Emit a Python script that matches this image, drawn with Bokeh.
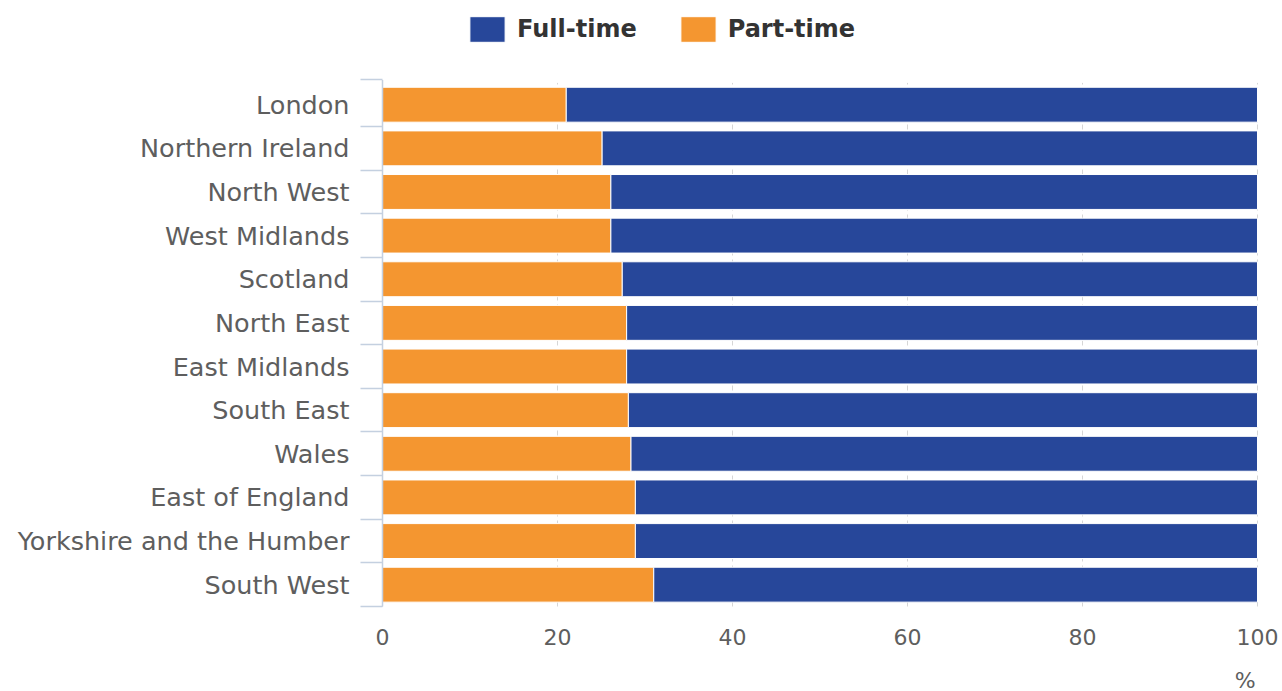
from bokeh.plotting import figure
from bokeh.models import (ColumnDataSource, Range1d, FixedTicker, Legend, LegendItem, LinearAxis)
from bokeh.embed import file_html
from bokeh.resources import INLINE

# Share of employment by region (%), ordered top to bottom
regions = ["London", "Northern Ireland", "North West", "West Midlands", "Scotland",
           "North East", "East Midlands", "South East", "Wales", "East of England",
           "Yorkshire and the Humber", "South West"]
part_time = [21.0, 25.1, 26.1, 26.1, 27.4, 27.9, 27.9, 28.1, 28.4, 28.9, 28.9, 31.0]
full_time = [79.0, 74.9, 73.9, 73.9, 72.6, 72.1, 72.1, 71.9, 71.6, 71.1, 71.1, 69.0]
x_ticks = [0, 20, 40, 60, 80, 100]

FULL_COLOR = "#27479a"
PART_COLOR = "#f49630"
AXIS_COLOR = "#c4d0e0"
GRID_COLOR = "#d6d6d6"
LABEL_COLOR = "#5e5e5e"
FONT = "DejaVu Sans"
W, H = 1282, 691

n = len(regions)
ypos = [n - i - 0.5 for i in range(n)]
src = ColumnDataSource(dict(y=ypos, region=regions, part=part_time, full=full_time))

# Layout in pixels: the plotting area spans the full canvas height and reaches the right
# edge, so the legend, tick labels and unit caption all live inside it.
frame_left, zero_px, hundred_px = 360.0, 382.0, 1257.0
x_scale = (hundred_px - zero_px) / 100
x_start = -(zero_px - frame_left) / x_scale
x_end = 100 + (W - hundred_px) / x_scale

base_px, top_px = 606.0, 82.4
band_px = (base_px - top_px) / n
y_top = base_px / band_px
y_bottom = -(H - base_px) / band_px
axis_top = n + 3.0 / band_px

p = figure(width=W, height=H, output_backend="svg", toolbar_location=None,
           x_range=Range1d(x_start, x_end), y_range=Range1d(y_bottom, y_top),
           min_border_left=int(frame_left), min_border_right=0,
           min_border_top=0, min_border_bottom=0)
p.outline_line_color = None
p.background_fill_color = "white"
p.xgrid.grid_line_color = None
p.ygrid.grid_line_color = None

# dashed vertical grid, limited to the band area
p.segment(x0=x_ticks, y0=[0] * len(x_ticks), x1=x_ticks, y1=[n] * len(x_ticks),
          line_color=GRID_COLOR, line_width=1, line_dash="5 4")

r_part, r_full = p.hbar_stack(["part", "full"], y="y", height=0.8, source=src,
                              color=[PART_COLOR, FULL_COLOR], line_color="white", line_width=1)

# category axis line at x = 0
p.segment(x0=[0], y0=[0], x1=[0], y1=[axis_top], line_color=AXIS_COLOR, line_width=1.5)

# x axis: labels only, pinned to y = 0
xaxis = p.xaxis[0]
xaxis.fixed_location = 0
xaxis.ticker = FixedTicker(ticks=x_ticks)
xaxis.axis_line_color = None
xaxis.major_tick_line_color = None
xaxis.minor_tick_line_color = None
xaxis.major_tick_out = 0
xaxis.major_label_standoff = 22
xaxis.major_label_text_font = FONT
xaxis.major_label_text_font_size = "22px"
xaxis.major_label_text_color = LABEL_COLOR

# unit caption under the last tick
unit_axis = LinearAxis(ticker=FixedTicker(ticks=[98.6]), major_label_overrides={98.6: "%"},
                       fixed_location=0, axis_line_color=None, major_tick_line_color=None,
                       minor_tick_line_color=None, major_tick_out=0, major_label_standoff=61,
                       major_label_text_font=FONT, major_label_text_font_size="22px",
                       major_label_text_color=LABEL_COLOR)
p.add_layout(unit_axis, "below")

# y axis: category names at band centres, separator ticks at band edges (drawn inward
# from the left edge of the plotting area up to x = 0)
p.yaxis.ticker = FixedTicker(ticks=ypos, minor_ticks=list(range(n)) + [axis_top])
p.yaxis.major_label_overrides = {y: r for y, r in zip(ypos, regions)}
p.yaxis.axis_line_color = None
p.yaxis.major_tick_out = 0
p.yaxis.major_tick_in = 0
p.yaxis.minor_tick_out = 0
p.yaxis.minor_tick_in = int(zero_px - frame_left)
p.yaxis.minor_tick_line_color = AXIS_COLOR
p.yaxis.minor_tick_line_width = 1.5
p.yaxis.major_label_standoff = 11
p.yaxis.major_label_text_font = FONT
p.yaxis.major_label_text_font_size = "25.5px"
p.yaxis.major_label_text_color = LABEL_COLOR

legend = Legend(items=[LegendItem(label="Full-time", renderers=[r_full]),
                       LegendItem(label="Part-time", renderers=[r_part])],
                orientation="horizontal", location=(105, H - 45),
                glyph_width=44, glyph_height=32, label_standoff=8, spacing=39,
                padding=0, margin=0, border_line_color=None, background_fill_alpha=0,
                label_text_font=FONT, label_text_font_style="bold",
                label_text_font_size="24px", label_text_color="#333333")
p.add_layout(legend, "center")

open("out.html", "w").write(file_html(p, INLINE))
